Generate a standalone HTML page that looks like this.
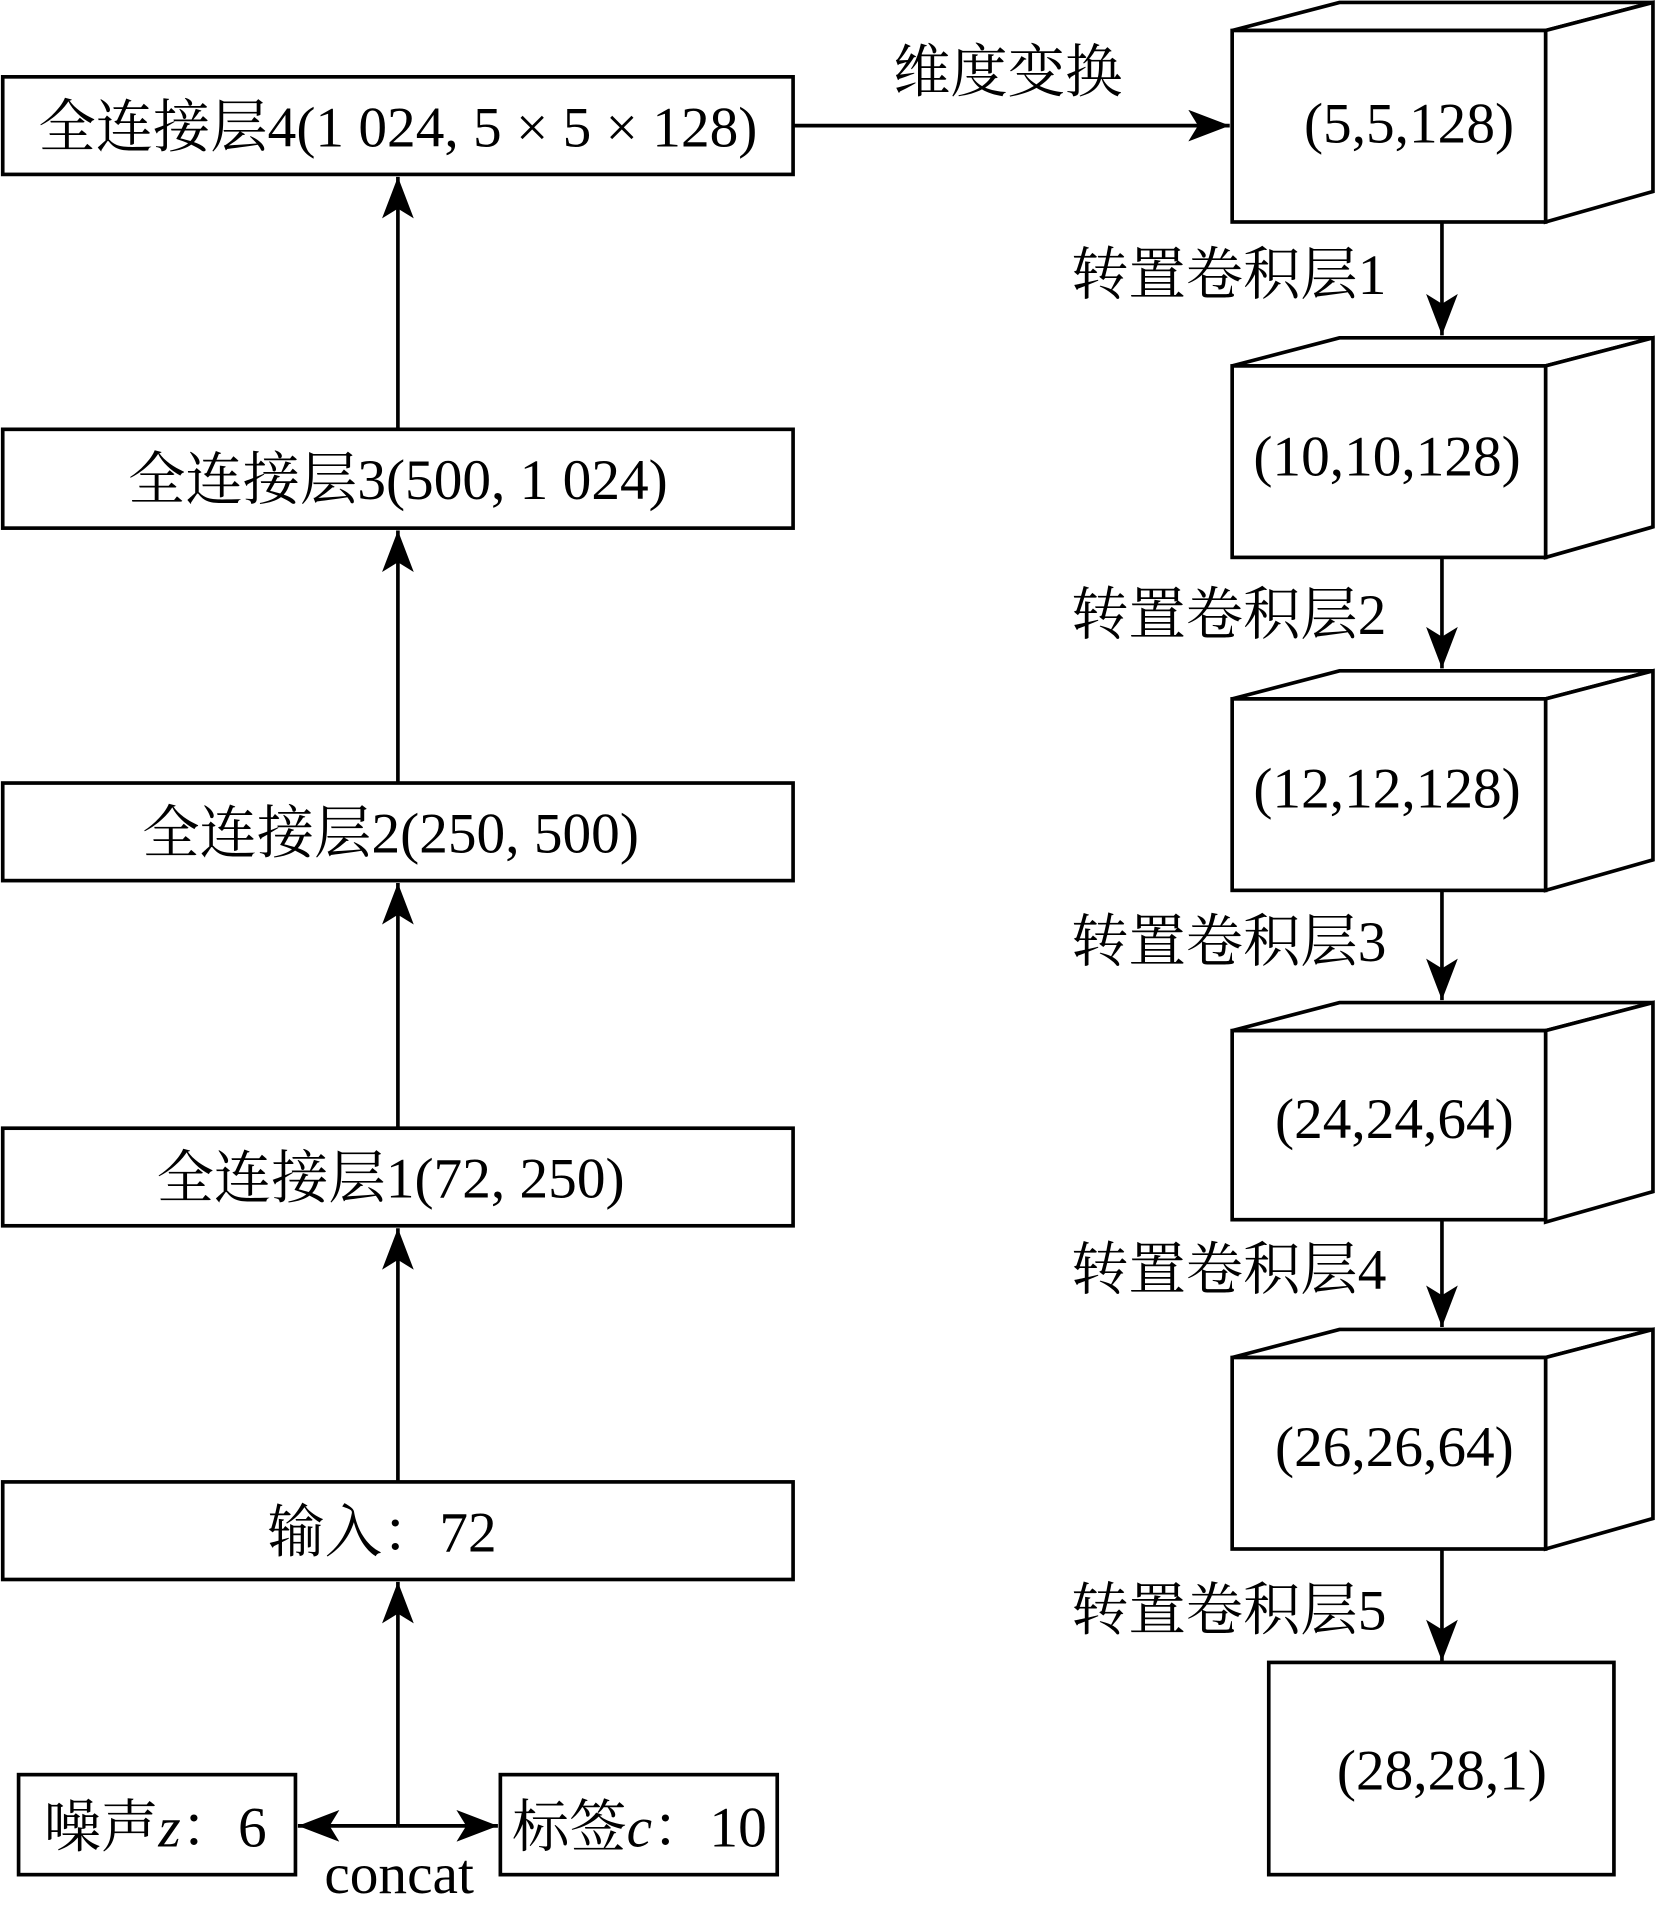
<!DOCTYPE html>
<html><head><meta charset="utf-8"><style>
html,body{margin:0;padding:0;background:#fff}
svg{display:block}
text{font-family:"Liberation Serif","Noto Serif CJK SC",serif;font-size:47px;fill:#000}
</style></head><body>
<svg width="1663" height="1921" viewBox="0 0 1363 1575" xmlns="http://www.w3.org/2000/svg">
<defs>
<marker id="ah" viewBox="0 0 34 26" refX="34" refY="13" markerWidth="34" markerHeight="26" markerUnits="userSpaceOnUse" orient="auto">
<path d="M0,0 L34,13 L0,26 L8,13 Z" fill="#000"/>
</marker>
</defs>
<g fill="#fff" stroke="#000" stroke-width="3">
<rect x="2" y="63" width="648" height="80"/>
<rect x="2" y="352" width="648" height="81"/>
<rect x="2" y="642" width="648" height="80"/>
<rect x="2" y="925" width="648" height="80"/>
<rect x="2" y="1215" width="648" height="80"/>
<rect x="15" y="1455" width="227" height="82"/>
<rect x="410" y="1455" width="227" height="82"/>
<rect x="1040" y="1363" width="283" height="174"/>
</g>
<g stroke="#000" stroke-width="3" fill="none">
<line x1="326" y1="352" x2="326" y2="145" marker-end="url(#ah)"/>
<line x1="326" y1="642" x2="326" y2="435" marker-end="url(#ah)"/>
<line x1="326" y1="925" x2="326" y2="724" marker-end="url(#ah)"/>
<line x1="326" y1="1215" x2="326" y2="1007" marker-end="url(#ah)"/>
<line x1="326" y1="1497" x2="326" y2="1297" marker-end="url(#ah)"/>
<line x1="326" y1="1497" x2="244" y2="1497" marker-end="url(#ah)"/>
<line x1="326" y1="1497" x2="408" y2="1497" marker-end="url(#ah)"/>
<line x1="650" y1="103" x2="1008" y2="103" marker-end="url(#ah)"/>
<line x1="1182" y1="182" x2="1182" y2="275" marker-end="url(#ah)"/>
<line x1="1182" y1="457" x2="1182" y2="548" marker-end="url(#ah)"/>
<line x1="1182" y1="730" x2="1182" y2="820" marker-end="url(#ah)"/>
<line x1="1182" y1="1000" x2="1182" y2="1088" marker-end="url(#ah)"/>
<line x1="1182" y1="1270" x2="1182" y2="1362" marker-end="url(#ah)"/>
</g>
<g fill="#fff" stroke="#000" stroke-width="3" stroke-linejoin="miter">
<g><path d="M1010,25 L1098,2 L1355,2 L1267,25 Z"/><path d="M1267,25 L1355,2 L1355,157 L1267,182 Z"/><rect x="1010" y="25" width="257" height="157"/></g>
<g transform="translate(0,275)"><path d="M1010,25 L1098,2 L1355,2 L1267,25 Z"/><path d="M1267,25 L1355,2 L1355,157 L1267,182 Z"/><rect x="1010" y="25" width="257" height="157"/></g>
<g transform="translate(0,548)"><path d="M1010,25 L1098,2 L1355,2 L1267,25 Z"/><path d="M1267,25 L1355,2 L1355,157 L1267,182 Z"/><rect x="1010" y="25" width="257" height="157"/></g>
<g transform="translate(0,820)"><path d="M1010,25 L1098,2 L1355,2 L1267,25 Z"/><path d="M1267,25 L1355,2 L1355,157 L1267,182 Z"/><rect x="1010" y="25" width="257" height="155"/></g>
<g transform="translate(0,1088)"><path d="M1010,25 L1098,2 L1355,2 L1267,25 Z"/><path d="M1267,25 L1355,2 L1355,157 L1267,182 Z"/><rect x="1010" y="25" width="257" height="157"/></g>
</g>
<g text-anchor="middle">
<text x="326" y="120">全连接层4(1 024, 5 × 5 × 128)</text>
<text x="326" y="409">全连接层3(500, 1 024)</text>
<text x="320" y="699">全连接层2(250, 500)</text>
<text x="320" y="982">全连接层1(72, 250)</text>
<text x="313" y="1272">输入：72</text>
<text x="127" y="1514">噪声<tspan font-style="italic">z</tspan>：6</text>
<text x="524" y="1514">标签<tspan font-style="italic">c</tspan>：10</text>
<text x="327" y="1552">concat</text>
<text x="826" y="75">维度变换</text>
<text x="1155" y="117">(5,5,128)</text>
<text x="1137" y="390">(10,10,128)</text>
<text x="1137" y="662">(12,12,128)</text>
<text x="1143" y="933">(24,24,64)</text>
<text x="1143" y="1202">(26,26,64)</text>
<text x="1182" y="1467">(28,28,1)</text>
</g>
<g>
<text x="878" y="241">转置卷积层1</text>
<text x="878" y="520">转置卷积层2</text>
<text x="878" y="788">转置卷积层3</text>
<text x="878" y="1057">转置卷积层4</text>
<text x="878" y="1336">转置卷积层5</text>
</g>
</svg>
</body></html>
